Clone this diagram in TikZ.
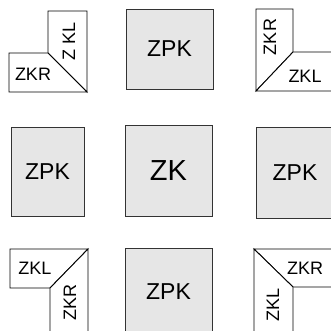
\documentclass[tikz,border=0pt]{standalone}
\usepackage{fontspec}
\setmainfont{Liberation Sans}
\usepackage{xcolor}
\usepackage{tikz}

\definecolor{boxgray}{HTML}{E6E6E6}
\definecolor{boxline}{HTML}{333333}

\begin{document}
\begin{tikzpicture}[x=1pt,y=-1pt,line width=0.9pt]
    \tikzset{pkbox/.style={draw=boxline,fill=boxgray,inner sep=0pt,font=\fontsize{23}{23}\selectfont},
             piece/.style={draw=black,fill=white,line join=miter},
             cornerlabel/.style={inner sep=0pt,font=\fontsize{18}{18}\selectfont}}

    \useasboundingbox (0,0) rectangle (331,330);
    \clip (0,0) rectangle (331,330);

    % plain boxes
    \node[pkbox,minimum width=87pt,minimum height=80pt] (top) at (169.5,49) {ZPK};
    \node[pkbox,minimum width=73pt,minimum height=89pt] (left) at (47.5,171.5) {ZPK};
    \node[pkbox,minimum width=87pt,minimum height=91pt,font=\fontsize{29}{29}\selectfont] (mid) at (168.5,170.5) {ZK};
    \node[pkbox,minimum width=78pt,minimum height=91pt] (right) at (295,172.5) {ZPK};
    \node[pkbox,minimum width=87pt,minimum height=88pt] (bottom) at (168.5,292) {ZPK};

    % top left corner
    \draw[piece] (48,11) -- (87,11) -- (87,92) -- (48,53) -- cycle;
    \draw[piece] (9,53) -- (48,53) -- (87,92) -- (9,92) -- cycle;
    \node[cornerlabel] (tlh) at (33,74) {ZKR};
    \node[cornerlabel,rotate=90] (tlv) at (69,41) {Z KL};

    % top right corner
    \draw[piece] (256,9) -- (293,9) -- (293,52) -- (256,91) -- cycle;
    \draw[piece] (293,52) -- (340,52) -- (340,91) -- (256,91) -- cycle;
    \node[cornerlabel,rotate=90] (trv) at (270,37) {ZKR};
    \node[cornerlabel] (trh) at (305,76) {ZKL};

    % bottom left corner
    \draw[piece] (10,249) -- (88,249) -- (50,288) -- (10,288) -- cycle;
    \draw[piece] (50,288) -- (88,249) -- (88,340) -- (50,340) -- cycle;
    \node[cornerlabel] (blh) at (35,268) {ZKL};
    \node[cornerlabel,rotate=90] (blv) at (70,302) {ZKR};

    % bottom right corner
    \draw[piece] (254,249) -- (340,249) -- (340,287) -- (293,287) -- cycle;
    \draw[piece] (254,249) -- (293,287) -- (293,340) -- (254,340) -- cycle;
    \node[cornerlabel] (brh) at (305,268) {ZKR};
    \node[cornerlabel,rotate=90] (brv) at (273,305) {ZKL};
\end{tikzpicture}
\end{document}
